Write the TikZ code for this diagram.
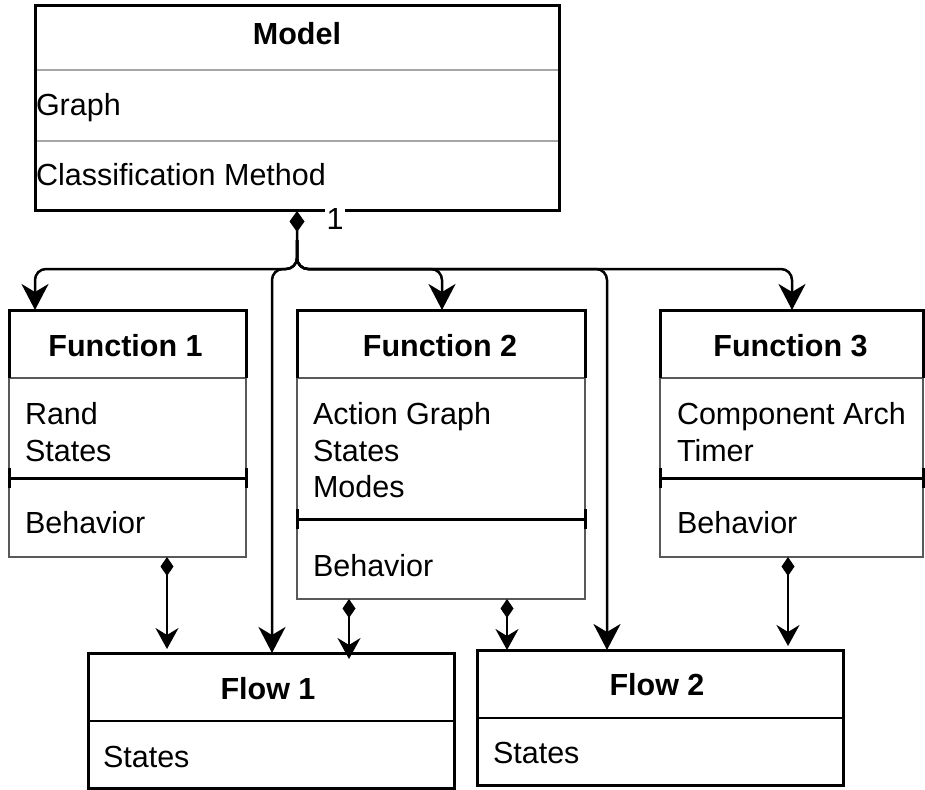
\documentclass[tikz,border=0pt]{standalone}
\usepackage{fontspec}
\setmainfont{Liberation Sans}
\usetikzlibrary{arrows.meta,calc}
\tikzset{
  bighead/.tip={Stealth[length=26pt,width=27pt,inset=8pt]},
  smallhead/.tip={Stealth[length=21pt,width=23pt,inset=7pt]},
  bigdia/.tip={Diamond[length=21pt,width=15pt]},
  smalldia/.tip={Diamond[length=19pt,width=13pt]}
}
\begin{document}
\begin{tikzpicture}[x=1pt,y=-1pt,
  every node/.style={inner sep=0pt, outer sep=0pt},
  frame/.style={draw=none, anchor=north west},
  txt/.style={font=\fontsize{30.5}{36}\selectfont},
  ttl/.style={font=\fontsize{30.5}{36}\selectfont\bfseries},
  outerline/.style={line width=3pt, black},
  bodyline/.style={line width=1.6pt, black!65},
  lightdiv/.style={line width=2.5pt, black!35},
  sepline/.style={line width=3pt, black},
  flowdiv/.style={line width=2.2pt, black},
  mconn/.style={line width=2.5pt, rounded corners=11pt},
  fconn/.style={line width=2.2pt}
]
\useasboundingbox (0,0) rectangle (925,789);

% ---------- frames ----------
\node[frame, minimum width=524pt, minimum height=204pt] (model) at (35,6) {};
\node[frame, minimum width=237pt, minimum height=247pt] (f1) at (9,310) {};
\node[frame, minimum width=288pt, minimum height=289pt] (f2) at (297,310) {};
\node[frame, minimum width=263pt, minimum height=247pt] (f3) at (660,310) {};
\node[frame, minimum width=366pt, minimum height=135pt] (fl1) at (88,653) {};
\node[frame, minimum width=366pt, minimum height=135pt] (fl2) at (477,650) {};

% ---------- Model ----------
\draw[lightdiv] ($(model.north west)+(0,64)$) -- ($(model.north east)+(0,64)$);
\draw[lightdiv] ($(model.north west)+(0,135)$) -- ($(model.north east)+(0,135)$);
\draw[outerline] (model.north west) rectangle (model.south east);
\node[ttl, anchor=base] (mtitle) at ($(model.north)+(0,39)$) {Model};
\node[txt, anchor=base west] (mgraph) at ($(model.north west)+(1,109)$) {Graph};
\node[txt, anchor=base west] (mclass) at ($(model.north west)+(1,179)$) {Classification Method};

% ---------- Function boxes ----------
\foreach \b/\s in {f1/168, f2/209, f3/168}{
  \draw[bodyline] ($(\b.north west)+(0,68)$) rectangle (\b.south east);
  \draw[outerline] ($(\b.north west)+(0,68)$) -- (\b.north west) -- (\b.north east) -- ($(\b.north east)+(0,68)$);
  \draw[sepline] ($(\b.north west)+(0,\s)$) -- ($(\b.north east)+(0,\s)$);
  \draw[sepline] ($(\b.north west)+(0,\s-10)$) -- ($(\b.north west)+(0,\s+10)$);
  \draw[sepline] ($(\b.north east)+(0,\s-10)$) -- ($(\b.north east)+(0,\s+10)$);
}
\node[ttl, anchor=base] (f1t) at ($(f1.north)+(-2,46)$) {Function 1};
\node[txt, anchor=base west] (f1a) at ($(f1.north west)+(16,114)$) {Rand};
\node[txt, anchor=base west] (f1b) at ($(f1.north west)+(16,151)$) {States};
\node[txt, anchor=base west] (f1c) at ($(f1.north west)+(16,223)$) {Behavior};

\node[ttl, anchor=base] (f2t) at ($(f2.north)+(-1,46)$) {Function 2};
\node[txt, anchor=base west] (f2a) at ($(f2.north west)+(16,114)$) {Action Graph};
\node[txt, anchor=base west] (f2b) at ($(f2.north west)+(16,151)$) {States};
\node[txt, anchor=base west] (f2c) at ($(f2.north west)+(16,187)$) {Modes};
\node[txt, anchor=base west] (f2d) at ($(f2.north west)+(16,266)$) {Behavior};

\node[ttl, anchor=base] (f3t) at ($(f3.north)+(-1,46)$) {Function 3};
\node[txt, anchor=base west] (f3a) at ($(f3.north west)+(17,114)$) {Component Arch};
\node[txt, anchor=base west] (f3b) at ($(f3.north west)+(17,151)$) {Timer};
\node[txt, anchor=base west] (f3c) at ($(f3.north west)+(17,223)$) {Behavior};

% ---------- Flow boxes ----------
\foreach \b in {fl1, fl2}{
  \draw[flowdiv] ($(\b.north west)+(0,68)$) -- ($(\b.north east)+(0,68)$);
  \draw[outerline] (\b.north west) rectangle (\b.south east);
}
\node[ttl, anchor=base] (fl1t) at ($(fl1.north)+(-3,46)$) {Flow 1};
\node[txt, anchor=base west] (fl1a) at ($(fl1.north west)+(15,114)$) {States};
\node[ttl, anchor=base] (fl2t) at ($(fl2.north)+(-3,45)$) {Flow 2};
\node[txt, anchor=base west] (fl2a) at ($(fl2.north west)+(16,113)$) {States};

% ---------- Model connectors ----------
\coordinate (mtop) at ($(model.south west)+(262,1)$);
\coordinate (mmid) at ($(model.south west)+(262,30)$);
\coordinate (mj) at ($(model.south west)+(262,59)$);
\draw[mconn, bigdia-bighead] (mtop) -- (mj) -| ($(f1.north west)+(26,0)$);
\draw[mconn, -bighead] (mmid) -- (mj) -| ($(fl1.north west)+(184,0)$);
\draw[mconn, -bighead] (mmid) -- (mj) -| ($(f2.north west)+(145,0)$);
\draw[mconn, -bighead] (mmid) -- (mj) -| ($(fl2.north west)+(130,0)$);
\draw[mconn, -bighead] (mmid) -- (mj) -| ($(f3.north west)+(132,0)$);
\node[txt, fill=white, inner sep=2pt] (one) at ($(model.south west)+(300,9)$) {1};

% ---------- Function -> Flow connectors ----------
\draw[fconn, smalldia-smallhead] ($(f1.south west)+(158,0)$) -- ($(fl1.north west)+(79,-4)$);
\draw[fconn, smalldia-smallhead] ($(f2.south west)+(52,0)$) -- ($(fl1.north west)+(261,6)$);
\draw[fconn, smalldia-smallhead] ($(f2.south west)+(210,0)$) -- ($(fl2.north west)+(30,0)$);
\draw[fconn, smalldia-smallhead] ($(f3.south west)+(128,0)$) -- ($(fl2.north west)+(311,-4)$);
\end{tikzpicture}
\end{document}
